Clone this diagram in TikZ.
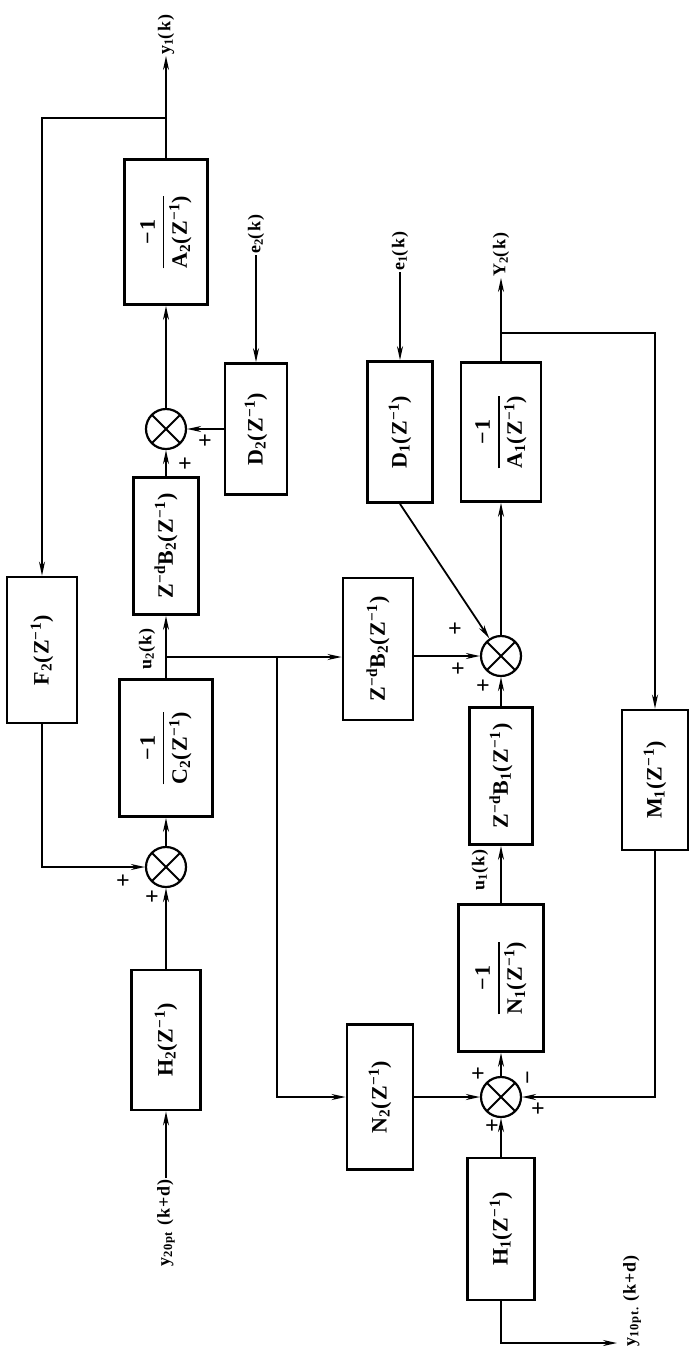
\documentclass[tikz,border=0pt]{standalone}
\usepackage{amsmath}
\usepackage{fontspec}
\setmainfont{Liberation Serif}
\newfontfamily\blkfont{Liberation Serif}[LetterSpace=6]
\usetikzlibrary{arrows.meta,positioning}

\newcommand{\zinv}{(Z\textsuperscript{−1})}
\newcommand{\zdel}{Z\textsuperscript{−d}}
\newcommand{\negfrac}[1]{$\displaystyle{\text{−1}\above1.6pt\text{#1}}$}

\tikzset{
  blk/.style={draw, line width=2.8pt, rotate=90, inner sep=2pt,
    font=\blkfont\bfseries\fontsize{22}{25}\selectfont},
  sumnode/.style={draw, circle, line width=2.2pt, minimum size=40pt, inner sep=0pt,
    path picture={
      \draw[line width=1.8pt] (path picture bounding box.north west) -- (path picture bounding box.south east);
      \draw[line width=1.8pt] (path picture bounding box.north east) -- (path picture bounding box.south west);}},
  conn/.style={line width=1.8pt, -{Stealth[length=14pt,width=6pt]}},
  lbl/.style={rotate=90, inner sep=1pt, font=\blkfont\bfseries\fontsize{18}{20}\selectfont},
  sgn/.style={inner sep=0pt, font=\bfseries\fontsize{24}{24}\selectfont}
}

\begin{document}
\begin{tikzpicture}[x=1pt, y=-1pt]
    \useasboundingbox (0,0) rectangle (691,1350);

    % loop 2 (left column)
    \node[blk, minimum width=145, minimum height=83] (A2) at (166,232) {\negfrac{A\textsubscript{2}\zinv}};
    \node[sumnode] (SA2) at (166,429) {};
    \node[blk, minimum width=131, minimum height=62] (D2) at (256,429) {D\textsubscript{2}\zinv};
    \node[blk, minimum width=137, minimum height=65] (ZB2a) at (166,546) {\zdel B\textsubscript{2}\zinv};
    \node[blk, minimum width=146, minimum height=70] (F2) at (42,650) {F\textsubscript{2}\zinv};
    \node[blk, minimum width=137, minimum height=93] (C2) at (166,748) {\negfrac{C\textsubscript{2}\zinv}};
    \node[sumnode] (SC2) at (166,867) {};
    \node[blk, minimum width=140, minimum height=69] (H2) at (166,1040) {H\textsubscript{2}\zinv};

    % loop 1 (right column)
    \node[blk, minimum width=141, minimum height=65] (D1) at (400,432) {D\textsubscript{1}\zinv};
    \node[blk, minimum width=139, minimum height=80] (A1) at (501,432) {\negfrac{A\textsubscript{1}\zinv}};
    \node[blk, minimum width=142, minimum height=70] (ZB2b) at (378,649) {\zdel B\textsubscript{2}\zinv};
    \node[sumnode] (S1a) at (501,656) {};
    \node[blk, minimum width=137, minimum height=63] (ZB1) at (501,776) {\zdel B\textsubscript{1}\zinv};
    \node[blk, minimum width=140, minimum height=66] (M1) at (655,780) {M\textsubscript{1}\zinv};
    \node[blk, minimum width=147, minimum height=85] (N1) at (501,978) {\negfrac{N\textsubscript{1}\zinv}};
    \node[blk, minimum width=145, minimum height=66] (N2) at (380,1097) {N\textsubscript{2}\zinv};
    \node[sumnode] (S1b) at (501,1097) {};
    \node[blk, minimum width=142, minimum height=67] (H1) at (501,1229) {H\textsubscript{1}\zinv};

    % signals
    \node[lbl, anchor=west] (y1) at (166,56) {y\textsubscript{1}(k)};
    \node[lbl, anchor=west] (e2) at (256,255) {e\textsubscript{2}(k)};
    \node[lbl, anchor=west] (e1) at (400,272) {e\textsubscript{1}(k)};
    \node[lbl, anchor=west] (Y2) at (501,278) {Y\textsubscript{2}(k)};
    \node[lbl] (u2) at (147,649) {u\textsubscript{2}(k)};
    \node[lbl] (u1) at (480,870) {u\textsubscript{1}(k)};
    \node[lbl, anchor=east] (y20) at (166,1178) {y\textsubscript{20pt} (k+d)};
    \node[lbl, anchor=north west] (y10) at (622,1348) {y\textsubscript{10pt.} (k+d)};
    \coordinate (t1) at (166,118);
    \coordinate (t2) at (501,333);
    \coordinate (j1) at (166,657);
    \coordinate (j2) at (277,657);
    \coordinate (y10in) at (617,1343);

    % connectors, loop 2
    \draw[conn] (y20) -- (H2);
    \draw[conn] (H2) -- (SC2);
    \draw[conn] (F2) |- (SC2);
    \draw[conn] (SC2) -- (C2);
    \draw[conn] (C2) -- (ZB2a);
    \draw[conn] (ZB2a) -- (SA2);
    \draw[conn] (D2) -- (SA2);
    \draw[conn] (e2) -- (D2);
    \draw[conn] (SA2) -- (A2);
    \draw[conn] (A2) -- (y1);
    \draw[conn] (t1) -| (F2);
    \draw[conn] (j1) -- (j1 -| ZB2b.north);
    \draw[conn] (j2) |- (N2);

    % connectors, loop 1
    \draw[conn] (ZB2b.south |- S1a) -- (S1a);
    \draw[conn] (D1.west) -- (S1a);
    \draw[conn] (e1) -- (D1);
    \draw[conn] (S1a) -- (A1);
    \draw[conn] (A1) -- (Y2);
    \draw[conn] (t2) -| (M1);
    \draw[conn] (ZB1) -- (S1a);
    \draw[conn] (N1) -- (ZB1);
    \draw[conn] (S1b) -- (N1);
    \draw[conn] (N2) -- (S1b);
    \draw[conn] (M1) |- (S1b);
    \draw[conn] (H1) -- (S1b);
    \draw[conn, {Stealth[length=14pt,width=6pt]}-] (y10in) -| (H1);

    % signs
    \node[sgn] (p1) at (123,882) {+};
    \node[sgn] (p2) at (152,898) {+};
    \node[sgn] (p3) at (205,442) {+};
    \node[sgn] (p4) at (185,465) {+};
    \node[sgn] (p5) at (455,630) {+};
    \node[sgn] (p6) at (458,670) {+};
    \node[sgn] (p7) at (483,687) {+};
    \node[sgn] (p8) at (478,1075) {+};
    \node[sgn, rotate=90] (m1) at (531,1078) {−};
    \node[sgn] (p9) at (538,1110) {+};
    \node[sgn] (p10) at (492,1127) {+};
\end{tikzpicture}
\end{document}
